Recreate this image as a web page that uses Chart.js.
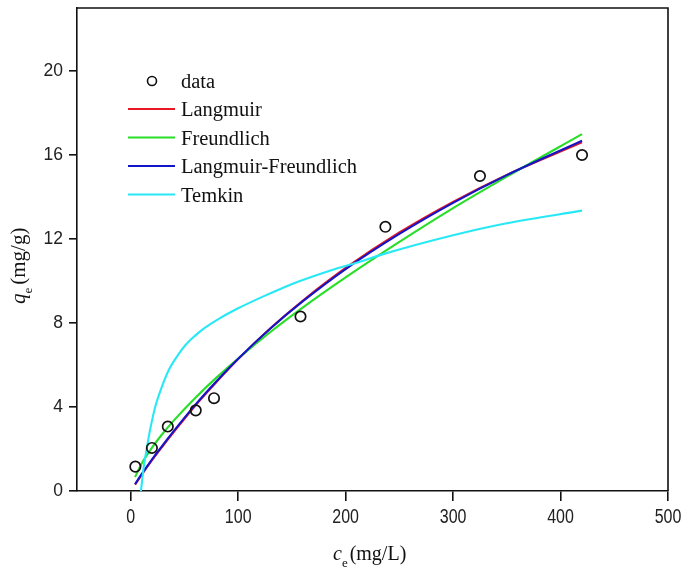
<!DOCTYPE html>
<html>
<head>
<meta charset="utf-8">
<script src="https://cdn.jsdelivr.net/npm/chart.js@4.4.1/dist/chart.umd.min.js"></script>
<style>
  html, body { margin: 0; padding: 0; background: #fff; }
  #wrap { width: 695px; height: 570px; position: relative; }
</style>
</head>
<body>
<div id="wrap"><canvas id="c" width="695" height="570"></canvas></div>
<script>
// ---- data ----
const dataC = [4.3, 19.7, 34.5, 60.5, 77.5, 158, 237, 325, 420];
const dataQ = [1.16, 2.05, 3.07, 3.84, 4.42, 8.31, 12.58, 15.0, 16.0];

const fitC = [4, 10, 20, 30, 40, 60, 80, 100, 130, 160, 200, 250, 300, 350, 420];
const langmuirQ = [0.30, 0.76, 1.48, 2.15, 2.80, 4.06, 5.20, 6.28, 7.75, 9.06, 10.62, 12.31, 13.77, 15.05, 16.60];
const freundlichQ = [0.66, 1.29, 2.08, 2.75, 3.35, 4.43, 5.41, 6.31, 7.57, 8.73, 10.17, 11.86, 13.47, 14.97, 16.99];
const lfQ = [0.33, 0.79, 1.52, 2.20, 2.85, 4.10, 5.24, 6.30, 7.74, 9.03, 10.57, 12.24, 13.72, 15.04, 16.68];

const temkinC = [9.5, 12, 15, 17, 20, 23, 30, 36, 45, 51, 60, 67, 82, 100, 124, 142, 155, 186, 214, 235, 300, 350, 420];
const temkinQ = [0.0, 1.1, 2.05, 2.65, 3.4, 4.05, 5.1, 5.82, 6.55, 6.95, 7.4, 7.7, 8.2, 8.7, 9.28, 9.68, 9.95, 10.5, 10.93, 11.28, 12.18, 12.75, 13.35];

const xTicks = [0, 100, 200, 300, 400, 500];
const yTicks = [0, 4, 8, 12, 16, 20];
const seriesNames = ['data', 'Langmuir', 'Freundlich', 'Langmuir-Freundlich', 'Temkin'];
const seriesColors = ['#111111', 'rgb(232,24,36)', 'rgb(40,222,40)', 'rgb(20,20,200)', 'rgb(40,232,245)'];

const pts = (xs, ys) => xs.map((x, i) => ({ x: x, y: ys[i] }));

const SERIF = '"Liberation Serif", "Times New Roman", serif';
const SANS = '"Liberation Sans", Arial, sans-serif';

function lineDs(i, xs, ys, order) {
  return {
    label: seriesNames[i],
    data: pts(xs, ys),
    showLine: true,
    borderColor: seriesColors[i],
    backgroundColor: seriesColors[i],
    borderWidth: 2.1,
    pointRadius: 0,
    cubicInterpolationMode: 'monotone',
    fill: false,
    order: order
  };
}

const frameAndTitles = {
  id: 'frameAndTitles',
  afterDraw(chart) {
    const ctx = chart.ctx;
    const a = chart.chartArea;
    ctx.save();
    // top and right frame
    ctx.strokeStyle = '#111';
    ctx.lineWidth = 1.6;
    ctx.beginPath();
    ctx.moveTo(a.left, a.top);
    ctx.lineTo(a.right, a.top);
    ctx.lineTo(a.right, a.bottom);
    ctx.stroke();

    // x tick labels (condensed look of the reference)
    const xs = chart.scales.x;
    ctx.fillStyle = '#222';
    ctx.textAlign = 'center';
    ctx.textBaseline = 'alphabetic';
    ctx.font = '19.5px ' + SANS;
    xs.ticks.forEach(t => {
      const px = xs.getPixelForValue(t.value);
      ctx.save();
      ctx.translate(px, a.bottom + 32);
      ctx.scale(0.82, 1);
      ctx.fillText(String(t.value), 0, 0);
      ctx.restore();
    });

    ctx.fillStyle = '#111';
    ctx.textAlign = 'left';
    // x title: c_e (mg/L)
    let x = 333, y = 560;
    ctx.font = 'italic 20px ' + SERIF;
    ctx.fillText('c', x, y);
    x += ctx.measureText('c').width;
    ctx.font = '13px ' + SERIF;
    ctx.fillText('e', x, y + 7);
    x += ctx.measureText('e').width + 2;
    ctx.font = '20px ' + SERIF;
    ctx.fillText('(mg/L)', x, y);

    // y title: q_e (mg/g), rotated
    ctx.save();
    ctx.translate(25, 304);
    ctx.rotate(-Math.PI / 2);
    let t = 0;
    ctx.font = 'italic 21px ' + SERIF;
    ctx.fillText('q', t, 0);
    t += ctx.measureText('q').width;
    ctx.font = '13px ' + SERIF;
    ctx.fillText('e', t, 7);
    t += ctx.measureText('e').width + 3;
    ctx.font = '21px ' + SERIF;
    ctx.fillText('(mg/g)', t, 0);
    ctx.restore();

    // legend
    const rows = [81, 109, 137.5, 166, 194.5];
    ctx.font = '20.5px ' + SERIF;
    chart.data.datasets.forEach((ds, i) => {
      const ry = rows[i];
      if (i === 0) {
        ctx.beginPath();
        ctx.strokeStyle = '#111';
        ctx.lineWidth = 1.6;
        ctx.arc(152, ry, 4.5, 0, Math.PI * 2);
        ctx.stroke();
      } else {
        ctx.beginPath();
        ctx.strokeStyle = ds.borderColor;
        ctx.lineWidth = 2;
        ctx.moveTo(128, ry);
        ctx.lineTo(175, ry);
        ctx.stroke();
      }
      ctx.fillStyle = '#111';
      ctx.fillText(ds.label, 181, ry + 7);
    });
    ctx.restore();
  }
};

new Chart(document.getElementById('c'), {
  type: 'scatter',
  data: {
    datasets: [
      {
        label: seriesNames[0],
        data: pts(dataC, dataQ),
        pointStyle: 'circle',
        pointRadius: 5.2,
        pointBorderWidth: 1.7,
        borderColor: '#111',
        backgroundColor: 'rgba(0,0,0,0)',
        showLine: false,
        order: 0
      },
      lineDs(1, fitC, langmuirQ, 4),
      lineDs(2, fitC, freundlichQ, 3),
      lineDs(3, fitC, lfQ, 2),
      lineDs(4, temkinC, temkinQ, 1)
    ]
  },
  options: {
    responsive: false,
    animation: false,
    devicePixelRatio: 1,
    layout: { padding: { left: 0, right: 27, top: 8, bottom: 0 } },
    plugins: { legend: { display: false }, tooltip: { enabled: false } },
    scales: {
      x: {
        type: 'linear',
        min: -50,
        max: 500,
        afterFit(s) { s.height = 79; s.paddingLeft = 0; s.paddingRight = 0; s.paddingTop = 0; s.paddingBottom = 0; },
        afterBuildTicks(s) { s.ticks = xTicks.map(v => ({ value: v })); },
        grid: { drawOnChartArea: false, drawTicks: true, tickLength: 10, color: '#111', lineWidth: 1.6 },
        border: { display: true, color: '#111', width: 1.6 },
        ticks: { display: false }
      },
      y: {
        type: 'linear',
        min: 0,
        max: 23,
        afterFit(s) { s.width = 77; s.paddingLeft = 0; s.paddingRight = 0; s.paddingTop = 0; s.paddingBottom = 0; },
        afterBuildTicks(s) { s.ticks = yTicks.map(v => ({ value: v })); },
        grid: { drawOnChartArea: false, drawTicks: true, tickLength: 8, color: '#111', lineWidth: 1.6 },
        border: { display: true, color: '#111', width: 1.6 },
        ticks: { color: '#222', padding: 6, font: { family: SANS, size: 17.5 } }
      }
    }
  },
  plugins: [frameAndTitles]
});
</script>
</body>
</html>
